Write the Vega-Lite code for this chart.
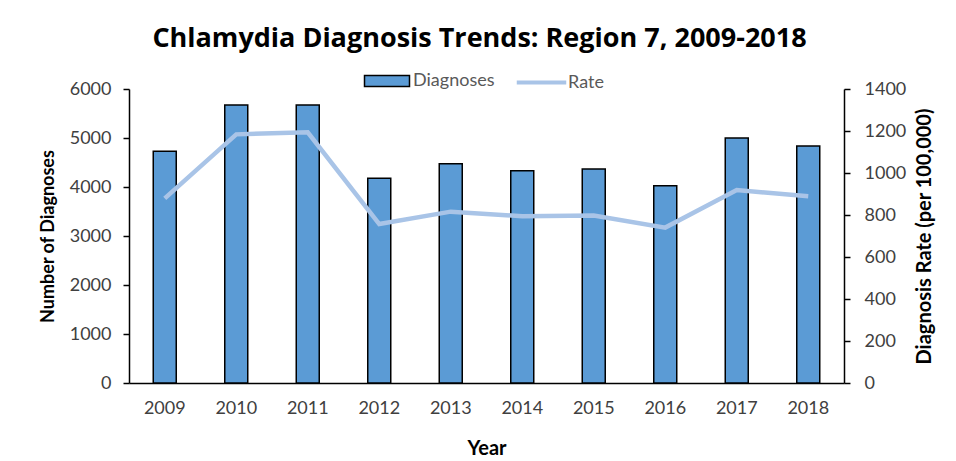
{
  "$schema": "https://vega.github.io/schema/vega-lite/v6.json",
  "width": 715,
  "height": 294,
  "autosize": {"type": "none"},
  "padding": {"left": 129, "top": 89, "right": 112, "bottom": 78},
  "background": "white",
  "title": {
    "text": "Chlamydia Diagnosis Trends: Region 7, 2009-2018",
    "font": "Open Sans",
    "fontSize": 27,
    "fontWeight": "bold",
    "color": "black",
    "anchor": "middle",
    "dx": -7,
    "offset": 16
  },
  "data": {
    "values": [
      {"year": "2009", "diagnoses": 4729, "rate": 879},
      {"year": "2010", "diagnoses": 5673, "rate": 1184},
      {"year": "2011", "diagnoses": 5673, "rate": 1194},
      {"year": "2012", "diagnoses": 4177, "rate": 757},
      {"year": "2013", "diagnoses": 4476, "rate": 816},
      {"year": "2014", "diagnoses": 4333, "rate": 794},
      {"year": "2015", "diagnoses": 4367, "rate": 798},
      {"year": "2016", "diagnoses": 4027, "rate": 740},
      {"year": "2017", "diagnoses": 5000, "rate": 919},
      {"year": "2018", "diagnoses": 4837, "rate": 889}
    ]
  },
  "encoding": {
    "x": {
      "field": "year",
      "type": "nominal",
      "sort": null,
      "scale": {"paddingInner": 0, "paddingOuter": 0},
      "axis": {
        "title": "Year",
        "titleFont": "Lato",
        "titleFontSize": 20,
        "titleFontWeight": "bold",
        "titleColor": "black",
        "titlePadding": 21,
        "labelFont": "Lato",
        "labelFontSize": 18,
        "labelColor": "#404040",
        "labelAngle": 0,
        "labelPadding": 16,
        "ticks": false,
        "domainColor": "black",
        "domainWidth": 1.5
      }
    }
  },
  "layer": [
    {
      "mark": {"type": "bar", "size": 23, "stroke": "black", "strokeWidth": 1.5},
      "encoding": {
        "y": {
          "field": "diagnoses",
          "type": "quantitative",
          "scale": {"domain": [0, 6000]},
          "axis": {
            "title": "Number of Diagnoses",
            "format": "d",
            "values": [0, 1000, 2000, 3000, 4000, 5000, 6000],
            "grid": false,
            "titleFont": "Lato",
            "titleFontSize": 18,
            "titleFontWeight": "bold",
            "titleColor": "black",
            "titlePadding": 12,
            "labelFont": "Lato",
            "labelFontSize": 18,
            "labelColor": "#404040",
            "labelPadding": 12,
            "tickSize": 6,
            "tickColor": "black",
            "tickWidth": 1.5,
            "domainColor": "black",
            "domainWidth": 1.5
          }
        },
        "fill": {
          "datum": "Diagnoses",
          "scale": {"domain": ["Diagnoses"], "range": ["#5B9BD5"]},
          "legend": {
            "orient": "none",
            "legendX": 246,
            "legendY": -20,
            "title": null,
            "padding": 0,
            "labelFont": "Lato",
            "labelFontSize": 18,
            "labelColor": "#595959",
            "labelOffset": 14,
            "symbolSize": 506,
            "symbolType": "M-2,-0.49H2V0.49H-2Z",
            "symbolStrokeColor": "black",
            "symbolStrokeWidth": 1.5,
            "symbolOpacity": 1
          }
        }
      }
    },
    {
      "mark": {"type": "line", "strokeWidth": 4.5},
      "encoding": {
        "y": {
          "field": "rate",
          "type": "quantitative",
          "scale": {"domain": [0, 1400]},
          "axis": {
            "orient": "right",
            "title": "Diagnosis Rate (per 100,000)",
            "format": "d",
            "values": [0, 200, 400, 600, 800, 1000, 1200, 1400],
            "grid": false,
            "titleAngle": 270,
            "titleBaseline": "top",
            "titleFont": "Lato",
            "titleFontSize": 20,
            "titleFontWeight": "bold",
            "titleColor": "black",
            "titlePadding": 9,
            "labelFont": "Lato",
            "labelFontSize": 18,
            "labelColor": "#404040",
            "labelPadding": 14,
            "tickSize": 6,
            "tickColor": "black",
            "tickWidth": 1.5,
            "domainColor": "black",
            "domainWidth": 1.5
          }
        },
        "stroke": {
          "datum": "Rate",
          "scale": {"domain": ["Rate"], "range": ["#A9C4E7"]},
          "legend": {
            "orient": "none",
            "legendX": 399,
            "legendY": -20,
            "title": null,
            "padding": 0,
            "labelFont": "Lato",
            "labelFontSize": 18,
            "labelColor": "#595959",
            "labelOffset": 13,
            "symbolSize": 506,
            "symbolType": "M-2.2,0H2.2",
            "symbolStrokeWidth": 4,
            "symbolOpacity": 1
          }
        }
      }
    }
  ],
  "resolve": {"scale": {"y": "independent"}},
  "config": {
    "view": {"stroke": null}
  }
}
